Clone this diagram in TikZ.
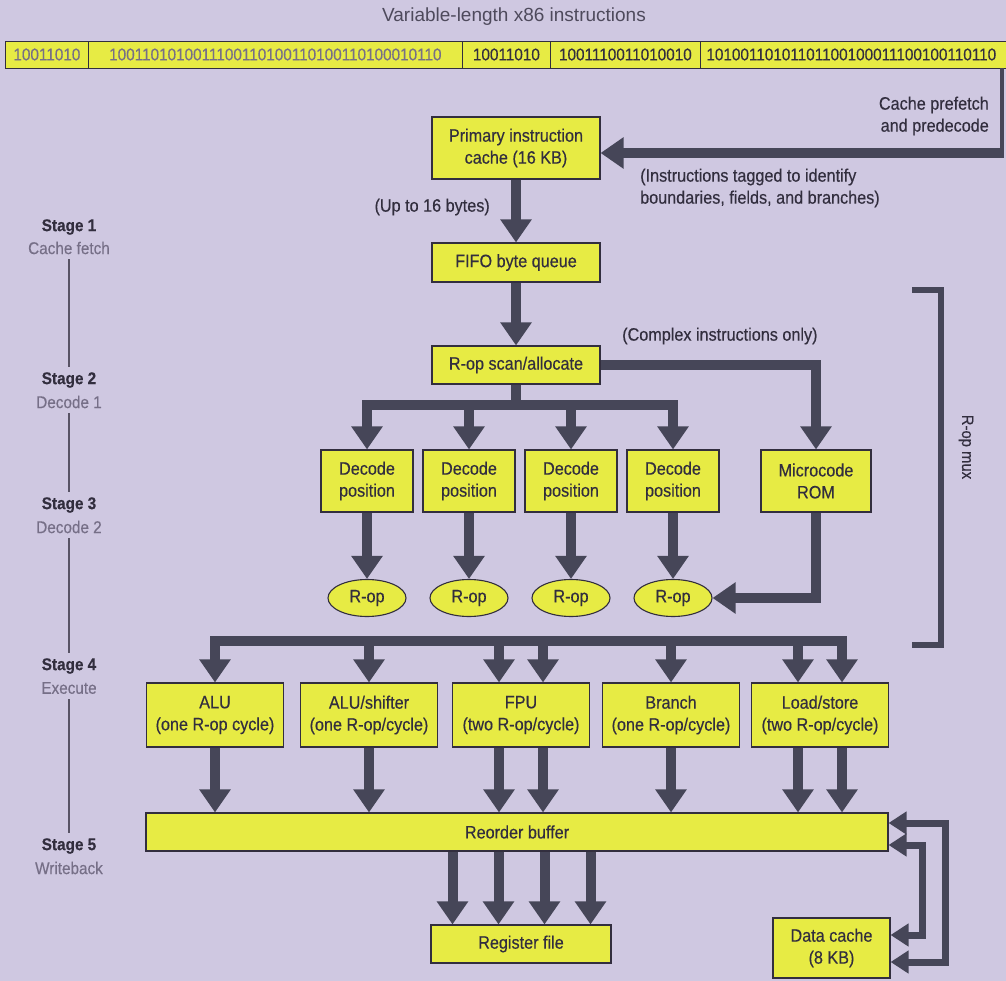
\documentclass[tikz,border=0pt]{standalone}
\usepackage{fontspec}
\setmainfont{Liberation Sans}[FakeStretch=0.9,FakeBold=0.35]
\newfontfamily\titlefam{Liberation Sans}
\usetikzlibrary{arrows.meta,shapes.geometric}
\definecolor{bgc}{RGB}{207,200,225}
\definecolor{boxy}{RGB}{231,235,68}
\definecolor{ink}{RGB}{50,46,62}
\definecolor{titc}{RGB}{78,74,92}
\definecolor{arrc}{RGB}{70,70,88}
\definecolor{soft}{RGB}{118,111,135}
\newcommand{\bxf}{\fontsize{18pt}{22pt}\selectfont}
\newcommand{\smf}{\fontsize{17pt}{21pt}\selectfont}
\begin{document}
\begin{tikzpicture}[x=1pt,y=-1pt,
  box/.style={draw=ink,line width=1.1pt,fill=boxy,align=center,inner sep=0pt,text=ink,font=\bxf},
  rop/.style={ellipse,draw=ink,line width=1.1pt,fill=boxy,inner sep=0pt,text=ink,font=\bxf,minimum width=78pt,minimum height=37pt},
  dec/.style={box,minimum width=92pt,minimum height=62pt},
  unit/.style={box,minimum width=137pt,minimum height=64pt},
  lbl/.style={text=ink,font=\bxf,inner sep=0pt},
  arr/.style={draw=arrc,line width=10pt,-{Triangle[width=30pt,length=23pt]}},
  bus/.style={draw=arrc,line width=10pt,line cap=rect},
  dbl/.style={draw=arrc,line width=7pt,{Triangle[width=22pt,length=18pt]}-{Triangle[width=22pt,length=18pt]}},
  stg/.style={font=\bfseries\smf,text=ink,inner sep=1pt},
  stgsub/.style={font=\smf,text=soft,inner sep=1pt},
  stgline/.style={draw=soft!75!black,line width=2pt,shorten <=4pt,shorten >=4pt},
  seg/.style={draw=ink,line width=0.8pt,fill=boxy,minimum height=27pt,inner sep=0pt,font=\smf,anchor=west,text=ink}
]
\useasboundingbox (0,0) rectangle (1006,981);
\fill[bgc] (0,0) rectangle (1006,981);
\begin{scope}
\clip (0,0) rectangle (1006,981);

% title and instruction bar
\node[font=\titlefam\fontsize{19pt}{22pt}\selectfont,text=titc] (title) at (514,17) {Variable-length x86 instructions};
\node[seg,minimum width=83pt,text=soft] (b1) at (5,54.5) {10011010};
\node[seg,minimum width=374pt,text=soft] (b2) at (88,54.5) {1001101010011100110100110100110100010110};
\node[seg,minimum width=88pt] (b3) at (462,54.5) {10011010};
\node[seg,minimum width=150pt] (b4) at (550,54.5) {1001110011010010};
\node[seg,minimum width=316pt,text width=304pt,inner xsep=6pt,align=left] (b5) at (700,54.5) {10100110101101100100011100100110110};

% main boxes
\node[box,minimum width=168pt,minimum height=62pt] (prim) at (516,148) {Primary instruction\\cache (16 KB)};
\node[box,minimum width=168pt,minimum height=39pt] (fifo) at (516,262.5) {FIFO byte queue};
\node[box,minimum width=168pt,minimum height=38pt] (scan) at (516,365) {R-op scan/allocate};
\node[dec] (d1) at (367,481) {Decode\\position};
\node[dec] (d2) at (469,481) {Decode\\position};
\node[dec] (d3) at (571,481) {Decode\\position};
\node[dec] (d4) at (673,481) {Decode\\position};
\node[dec,minimum width=110pt] (mc) at (816,481) {Microcode\\ROM};
\node[rop] (e1) at (367,598) {R-op};
\node[rop] (e2) at (469,598) {R-op};
\node[rop] (e3) at (571,598) {R-op};
\node[rop] (e4) at (673,598) {R-op};
\node[unit] (u1) at (215,715) {ALU\\(one R-op cycle)};
\node[unit] (u2) at (369,715) {ALU/shifter\\(one R-op/cycle)};
\node[unit] (u3) at (521,715) {FPU\\(two R-op/cycle)};
\node[unit] (u4) at (671,715) {Branch\\(one R-op/cycle)};
\node[unit] (u5) at (820,715) {Load/store\\(two R-op/cycle)};
\node[box,minimum width=742pt,minimum height=38pt] (rob) at (517,832) {Reorder buffer};
\node[box,minimum width=180pt,minimum height=38pt] (reg) at (521,944) {Register file};
\node[box,minimum width=117pt,minimum height=60pt] (dc) at (831.5,948) {Data cache\\(8 KB)};

% labels
\node[lbl,align=right,anchor=east] (pft) at (989,116) {Cache prefetch\\and predecode};
\node[lbl,align=left,anchor=west] (tag) at (640,188) {(Instructions tagged to identify\\boundaries, fields, and branches)};
\node[lbl,anchor=east] (up16) at (490,207) {(Up to 16 bytes)};
\node[lbl,anchor=west] (cx) at (622,336) {(Complex instructions only)};
\node[lbl,rotate=-90,font=\fontsize{16.5pt}{18pt}\selectfont] (mux) at (966,447) {R-op mux};

% cache prefetch connector
\coordinate (pfb) at (1002,158);
\coordinate (pfa) at (1003.5,153);
\draw[draw=arrc,line width=3.5pt] (b5.south -| pfb) -- (pfb);
\draw[arr] (pfa) -- (prim.east |- pfa);

% front end
\draw[arr] (prim.south) -- (fifo.north);
\draw[arr] (fifo.south) -- (scan.north);
\coordinate (dbus) at (516,405);
\draw[draw=arrc,line width=10pt] (scan.south) -- (dbus);
\draw[bus] (d1.north |- dbus) -- (d4.north |- dbus);
\foreach \n in {d1,d2,d3,d4} \draw[arr] (\n.north |- dbus) -- (\n.north);
\draw[arr] (scan.east) -| (mc.north);
\foreach \n/\m in {d1/e1,d2/e2,d3/e3,d4/e4} \draw[arr] (\n.south) -- (\m.north);
\draw[arr] (mc.south) |- (e4.east);

% R-op mux bracket
\draw[draw=arrc,line width=6pt] (912,290) -- (941,290) -- (941,645) -- (912,645);

% execute bus
\coordinate (xb) at (517,641);
\path (u3.north) ++(-22,0) coordinate (u3l) ++(44,0) coordinate (u3r);
\path (u5.north) ++(-22,0) coordinate (u5l) ++(44,0) coordinate (u5r);
\path (u3.south) ++(-22,0) coordinate (u3bl) ++(44,0) coordinate (u3br);
\path (u5.south) ++(-22,0) coordinate (u5bl) ++(44,0) coordinate (u5br);
\draw[bus] (u1.north |- xb) -- (u5r |- xb);
\foreach \p in {u1.north,u2.north,u3l,u3r,u4.north,u5l,u5r} \draw[arr] (\p |- xb) -- (\p);
\foreach \p in {u1.south,u2.south,u3bl,u3br,u4.south,u5bl,u5br} \draw[arr] (\p) -- (\p |- rob.north);

% reorder buffer to register file
\path (reg.north) ++(-68.5,0) coordinate (r1) ++(46,0) coordinate (r2) ++(46,0) coordinate (r3) ++(46,0) coordinate (r4);
\foreach \p in {r1,r2,r3,r4} \draw[arr] (\p |- rob.south) -- (\p);

% data cache loops
\coordinate (lo1) at (945,823);
\coordinate (lo2) at (945,962);
\coordinate (li1) at (922,845);
\coordinate (li2) at (922,935);
\draw[dbl] (rob.east |- lo1) -- (lo1) -- (lo2) -- (dc.east |- lo2);
\draw[dbl] (rob.east |- li1) -- (li1) -- (li2) -- (dc.east |- li2);

% stages
\node[stg] (s1) at (69,227) {Stage 1};
\node[stgsub] (s1b) at (69,248) {Cache fetch};
\node[stg] (s2) at (69,380) {Stage 2};
\node[stgsub] (s2b) at (69,402) {Decode 1};
\node[stg] (s3) at (69,505) {Stage 3};
\node[stgsub] (s3b) at (69,527) {Decode 2};
\node[stg] (s4) at (69,666) {Stage 4};
\node[stgsub] (s4b) at (69,688) {Execute};
\node[stg] (s5) at (69,846) {Stage 5};
\node[stgsub] (s5b) at (69,868) {Writeback};
\draw[stgline] (s1b.south) -- (s2.north);
\draw[stgline] (s2b.south) -- (s3.north);
\draw[stgline] (s3b.south) -- (s4.north);
\draw[stgline] (s4b.south) -- (s5.north);
\end{scope}
\end{tikzpicture}
\end{document}
